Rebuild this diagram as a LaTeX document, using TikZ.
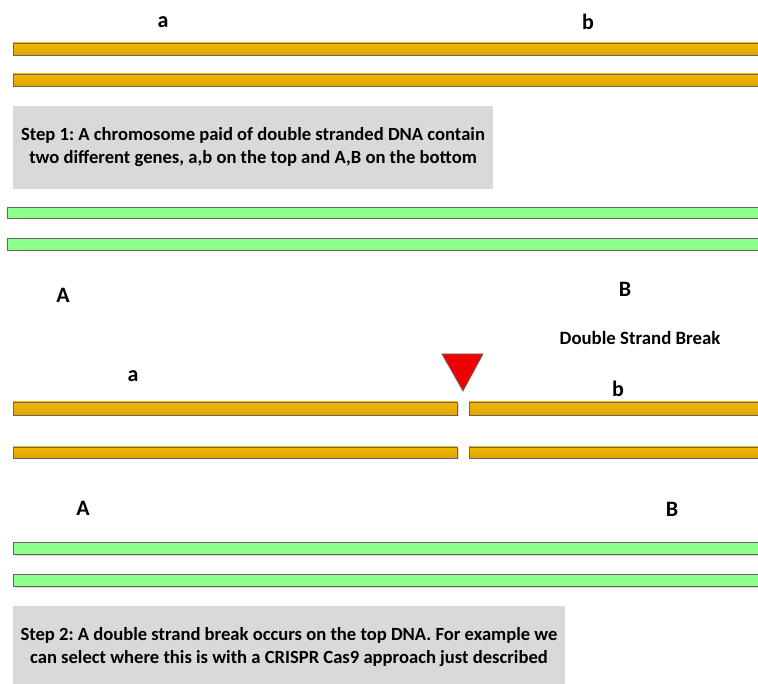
\documentclass[tikz,border=0pt]{standalone}
\usepackage{fontspec}
\setmainfont{Carlito}
\frenchspacing
\definecolor{barorange}{HTML}{F6B900}
\definecolor{barorangedark}{HTML}{DCA400}
\definecolor{bargreen}{HTML}{8CFF8C}
\definecolor{boxgray}{HTML}{D9D9D9}
\definecolor{cutred}{HTML}{EE0000}
\tikzset{
  strand/.style={draw=black!60, line width=0.9pt},
  orangebar/.style={strand, top color=barorange, bottom color=barorangedark},
  greenbar/.style={strand, fill=bargreen},
  barshadow/.style={fill=black!15, draw=none},
  genelabel/.style={font=\bfseries\fontsize{22}{24}\selectfont, inner sep=0pt},
  notelabel/.style={font=\bfseries\fontsize{18.8}{22}\selectfont, inner sep=0pt},
  stepbox/.style={fill=boxgray, draw=none},
  steptext/.style={font=\bfseries\fontsize{18.6}{23}\selectfont, align=center, inner sep=0pt},
}
% draw one strand segment with a soft shadow: #1 style, (x1,y1) to (x2,y2)
\newcommand{\strandseg}[5]{%
  \fill[barshadow] (#2+1.5,#3+1.5) rectangle (#4+1.5,#5+1.5);
  \path[#1] (#2,#3) rectangle (#4,#5);}
\begin{document}
\begin{tikzpicture}[x=1pt, y=-1pt]
\useasboundingbox (0,0) rectangle (758,684);

% ---- Step 1: intact chromosome pair ----
\node[genelabel] (a1) at (163,22) {a};
\node[genelabel] (b1) at (588,22) {b};
\strandseg{orangebar}{13}{43}{760}{55}
\strandseg{orangebar}{13}{74}{760}{86}

\fill[stepbox] (13,106) rectangle (493,189);
\node[steptext] (step1) at (253,147) {Step 1: A chromosome paid of double stranded DNA contain\\two different genes, a,b on the top and A,B on the bottom};

\strandseg{greenbar}{7}{207}{760}{218}
\strandseg{greenbar}{7}{238}{760}{250}
\node[genelabel] (A1) at (63,295) {A};
\node[genelabel] (B1) at (625,289) {B};

% ---- Step 2: double strand break on the top chromosome ----
\node[notelabel] (dsb) at (640,338) {Double Strand Break};
\node[genelabel] (a2) at (133,376) {a};
\node[genelabel] (b2) at (618,389) {b};
\path[draw=black!60, line width=0.8pt, fill=cutred] (442,354) -- (483,354) -- (463,391) -- cycle;

\strandseg{orangebar}{13}{402}{457}{415}
\strandseg{orangebar}{469}{402}{760}{415}
\strandseg{orangebar}{13}{447}{457}{458}
\strandseg{orangebar}{469}{447}{760}{458}

\node[genelabel] (A2) at (83,508) {A};
\node[genelabel] (B2) at (672,509) {B};
\strandseg{greenbar}{13}{542}{760}{554}
\strandseg{greenbar}{13}{574}{760}{586}

\fill[stepbox] (13,606) rectangle (565,686);
\node[steptext] (step2) at (289,647) {Step 2: A double strand break occurs on the top DNA. For example we\\can select where this is with a CRISPR Cas9 approach just described};
\end{tikzpicture}
\end{document}
